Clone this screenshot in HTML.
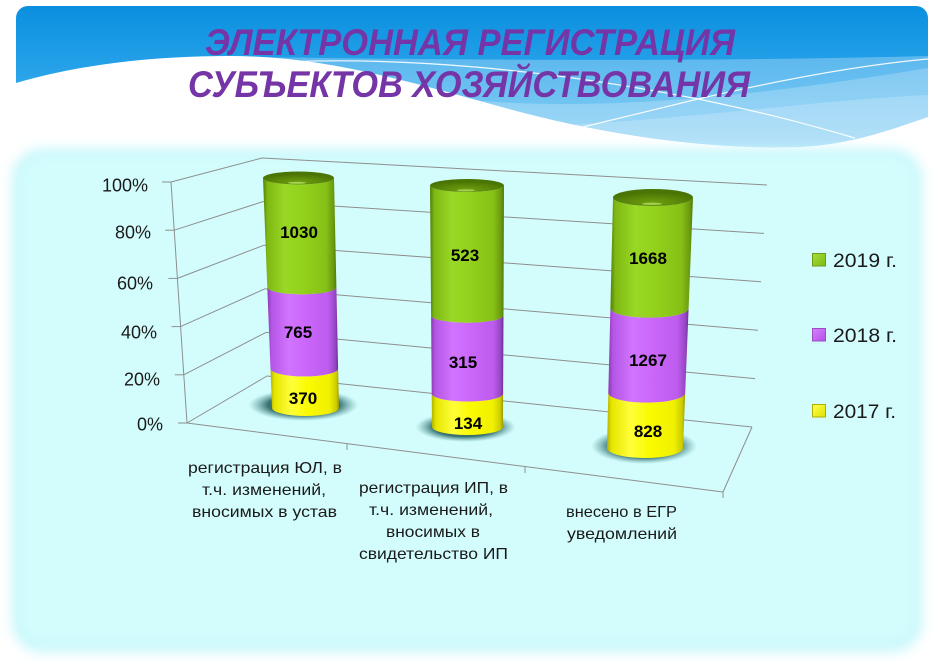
<!DOCTYPE html>
<html>
<head>
<meta charset="utf-8">
<style>
html,body{margin:0;padding:0;background:#ffffff;}
svg{display:block;}
</style>
</head>
<body>
<svg width="935" height="670" viewBox="0 0 935 670" xmlns="http://www.w3.org/2000/svg">
<defs>
  <linearGradient id="hdr" x1="0" y1="0" x2="0" y2="1" gradientUnits="objectBoundingBox">
    <stop offset="0" stop-color="#0a8fdf"/>
    <stop offset="0.45" stop-color="#2aa4ea"/>
    <stop offset="0.75" stop-color="#4ab6ef"/>
    <stop offset="1" stop-color="#6cc6f3"/>
  </linearGradient>
  <clipPath id="hclip"><rect x="16" y="6" width="912" height="160" rx="12"/></clipPath>
  <filter id="b5" x="-10%" y="-10%" width="120%" height="120%"><feGaussianBlur stdDeviation="6"/></filter>
  <filter id="b6" x="-10%" y="-10%" width="120%" height="120%"><feGaussianBlur stdDeviation="5"/></filter>

  <linearGradient id="gG" x1="0" y1="0" x2="1" y2="0">
    <stop offset="0" stop-color="#557f06"/>
    <stop offset="0.06" stop-color="#7eb812"/>
    <stop offset="0.3" stop-color="#9ad826"/>
    <stop offset="0.55" stop-color="#92d11c"/>
    <stop offset="0.86" stop-color="#86c016"/>
    <stop offset="0.96" stop-color="#6a9a0e"/>
    <stop offset="1" stop-color="#4f7a06"/>
  </linearGradient>
  <linearGradient id="gP" x1="0" y1="0" x2="1" y2="0">
    <stop offset="0" stop-color="#8a3ab0"/>
    <stop offset="0.06" stop-color="#b556e6"/>
    <stop offset="0.3" stop-color="#d174ff"/>
    <stop offset="0.55" stop-color="#cb66fb"/>
    <stop offset="0.86" stop-color="#bd5cee"/>
    <stop offset="0.96" stop-color="#9646c4"/>
    <stop offset="1" stop-color="#6f2c94"/>
  </linearGradient>
  <linearGradient id="gY" x1="0" y1="0" x2="1" y2="0">
    <stop offset="0" stop-color="#b0b000"/>
    <stop offset="0.06" stop-color="#e6e600"/>
    <stop offset="0.3" stop-color="#ffff3a"/>
    <stop offset="0.55" stop-color="#fafa00"/>
    <stop offset="0.86" stop-color="#f0f000"/>
    <stop offset="0.96" stop-color="#cccc00"/>
    <stop offset="1" stop-color="#9a9a00"/>
  </linearGradient>
  <radialGradient id="cap" cx="0.5" cy="0.8" r="0.6">
    <stop offset="0" stop-color="#6f9e10"/>
    <stop offset="1" stop-color="#4a7404"/>
  </radialGradient>
  <radialGradient id="shd" cx="0.5" cy="0.5" r="0.5">
    <stop offset="0" stop-color="#1a4f4f" stop-opacity="1"/>
    <stop offset="0.65" stop-color="#2a6464" stop-opacity="0.9"/>
    <stop offset="1" stop-color="#5a9a9a" stop-opacity="0"/>
  </radialGradient>
  <linearGradient id="lgG" x1="0" y1="0" x2="1" y2="1">
    <stop offset="0" stop-color="#a6e03a"/><stop offset="1" stop-color="#7cb814"/>
  </linearGradient>
  <linearGradient id="lgP" x1="0" y1="0" x2="1" y2="1">
    <stop offset="0" stop-color="#d680ff"/><stop offset="1" stop-color="#b450e6"/>
  </linearGradient>
  <linearGradient id="lgY" x1="0" y1="0" x2="1" y2="1">
    <stop offset="0" stop-color="#ffff50"/><stop offset="1" stop-color="#e0e000"/>
  </linearGradient>
</defs>

<!-- Header -->
<g clip-path="url(#hclip)">
  <rect x="16" y="6" width="912" height="160" fill="url(#hdr)"/>
  <path d="M250,57 C450,60 700,62 928,56 L928,170 L250,170 Z" fill="#ffffff" fill-opacity="0.28"/>
  <path d="M470,100 C600,112 760,96 928,68 L928,170 L470,170 Z" fill="#ffffff" fill-opacity="0.22"/>
  <path d="M560,125 C680,120 820,100 928,95 L928,170 L560,170 Z" fill="#ffffff" fill-opacity="0.2"/>
  <path d="M283,62 C400,57 540,68 698,99 C780,116 820,128 855,138" fill="none" stroke="#ffffff" stroke-width="1.2" stroke-opacity="0.9"/>
  <path d="M583,127 L698,99 C780,80 860,65 928,59" fill="none" stroke="#ffffff" stroke-width="1.2" stroke-opacity="0.9"/>
  <path d="M16,83 C60,70 130,56 230,56 C330,56 420,85 520,112 C620,138 720,150 800,147 C850,145 890,130 928,117 L928,170 L16,170 Z" fill="#ffffff"/>
</g>
<rect x="0" y="148" width="935" height="30" fill="#ffffff"/>

<!-- Title -->
<g font-family="'Liberation Sans', 'DejaVu Sans', sans-serif" font-weight="bold" font-style="italic" fill="#7535a6" font-size="37">
  <text x="205" y="55" textLength="530" lengthAdjust="spacingAndGlyphs">ЭЛЕКТРОННАЯ РЕГИСТРАЦИЯ</text>
  <text x="188" y="97" textLength="562" lengthAdjust="spacingAndGlyphs">СУБЪЕКТОВ ХОЗЯЙСТВОВАНИЯ</text>
</g>

<!-- Panel -->
<rect x="12" y="149" width="910" height="503" rx="30" fill="#c9f7fb" filter="url(#b5)"/>
<rect x="20" y="156" width="894" height="486" rx="24" fill="#d3fdfd" filter="url(#b6)"/>

<!-- Gridlines -->
<g stroke="#8e8e8e" stroke-width="1" fill="none">
  <line x1="171" y1="182" x2="262" y2="158"/>
  <line x1="174.2" y1="230.2" x2="263" y2="201.6"/>
  <line x1="177.4" y1="278.4" x2="264" y2="245.2"/>
  <line x1="180.6" y1="326.6" x2="265" y2="288.8"/>
  <line x1="183.8" y1="374.8" x2="266" y2="332.4"/>
  <line x1="187" y1="423" x2="267" y2="376"/>
  <line x1="262" y1="158" x2="767" y2="185"/>
  <line x1="263" y1="201.6" x2="764" y2="233.4"/>
  <line x1="264" y1="245.2" x2="761" y2="281.8"/>
  <line x1="265" y1="288.8" x2="758" y2="330.2"/>
  <line x1="266" y1="332.4" x2="755" y2="378.6"/>
  <line x1="267" y1="376" x2="752" y2="427"/>
  <line x1="171" y1="182" x2="187" y2="423"/>
  <line x1="187" y1="423" x2="723" y2="492"/>
  <line x1="723" y1="492" x2="752" y2="427"/>
  <line x1="162" y1="182" x2="171" y2="182"/>
  <line x1="165.2" y1="230.2" x2="174.2" y2="230.2"/>
  <line x1="168.4" y1="278.4" x2="177.4" y2="278.4"/>
  <line x1="171.6" y1="326.6" x2="180.6" y2="326.6"/>
  <line x1="174.8" y1="374.8" x2="183.8" y2="374.8"/>
  <line x1="178" y1="423" x2="187" y2="423"/>
  <line x1="347" y1="443.6" x2="347" y2="450"/>
  <line x1="525" y1="466.5" x2="525" y2="473"/>
  <line x1="723" y1="492" x2="723" y2="498"/>
</g>

<!-- Y labels -->
<g font-family="'Liberation Sans', sans-serif" font-size="18" fill="#1a1a1a" text-anchor="end">
  <text x="148" y="191.5">100%</text>
  <text x="151" y="238.5">80%</text>
  <text x="153" y="289.5">60%</text>
  <text x="157" y="338.5">40%</text>
  <text x="160" y="385.5">20%</text>
  <text x="163" y="430.5">0%</text>
</g>

<!-- Shadows -->
<ellipse cx="303.5" cy="405" rx="55" ry="16" fill="url(#shd)"/>
<ellipse cx="465.5" cy="427" rx="50" ry="15" fill="url(#shd)"/>
<ellipse cx="644" cy="446" rx="53" ry="18" fill="url(#shd)"/>

<!-- Cylinder 1 -->
<path d="M270.5,368.7 A33.8,7.7 0 0 0 338.1,368.7 L339,408 A33.5,8 0 0 1 272,408 Z" fill="url(#gY)"/>
<path d="M267.3,287.5 A34.6,7.2 0 0 0 336.4,287.5 L338.1,368.7 A33.8,7.7 0 0 1 270.5,368.7 Z" fill="url(#gP)"/>
<path d="M263,178 A35.5,6.5 0 0 0 334,178 L336.4,287.5 A34.6,7.2 0 0 1 267.3,287.5 Z" fill="url(#gG)"/>
<ellipse cx="298.5" cy="178" rx="35.5" ry="6.5" fill="url(#cap)"/>
<ellipse cx="297" cy="182.8" rx="9" ry="1.1" fill="#b8e86a" fill-opacity="0.7"/>

<!-- Cylinder 2 -->
<path d="M431.7,393.7 A35.7,7.8 0 0 0 503.1,393.7 L503,427 A35.5,8 0 0 1 432,427 Z" fill="url(#gY)"/>
<path d="M431.1,315.4 A36.2,7.3 0 0 0 503.5,315.4 L503.1,393.7 A35.7,7.8 0 0 1 431.7,393.7 Z" fill="url(#gP)"/>
<path d="M430,185.5 A37,6.5 0 0 0 504,185.5 L503.5,315.4 A36.2,7.3 0 0 1 431.1,315.4 Z" fill="url(#gG)"/>
<ellipse cx="467" cy="185.5" rx="37" ry="6.5" fill="url(#cap)"/>
<ellipse cx="466" cy="190.3" rx="9" ry="1.1" fill="#b8e86a" fill-opacity="0.7"/>

<!-- Cylinder 3 -->
<path d="M608.3,392.9 A38.4,9.7 0 0 0 685.2,392.9 L683,448 A38,10 0 0 1 607,448 Z" fill="url(#gY)"/>
<path d="M610.4,308.5 A39.1,9.2 0 0 0 688.6,308.5 L685.2,392.9 A38.4,9.7 0 0 1 608.3,392.9 Z" fill="url(#gP)"/>
<path d="M613,197.5 A40,8.5 0 0 0 693,197.5 L688.6,308.5 A39.1,9.2 0 0 1 610.4,308.5 Z" fill="url(#gG)"/>
<ellipse cx="653" cy="197.5" rx="40" ry="8.5" fill="url(#cap)"/>
<ellipse cx="652" cy="203.8" rx="10" ry="1.2" fill="#b8e86a" fill-opacity="0.7"/>

<!-- Data labels -->
<g font-family="'Liberation Sans', sans-serif" font-size="17" font-weight="bold" fill="#000000" text-anchor="middle">
  <text x="299" y="238">1030</text>
  <text x="298" y="338">765</text>
  <text x="303" y="404">370</text>
  <text x="465" y="261">523</text>
  <text x="463" y="368">315</text>
  <text x="468" y="429">134</text>
  <text x="648" y="264">1668</text>
  <text x="648" y="366">1267</text>
  <text x="648" y="437">828</text>
</g>

<!-- Legend -->
<rect x="812.5" y="253.5" width="13" height="12.5" fill="url(#lgG)" stroke="#6f9a1a" stroke-width="1"/>
<rect x="812.5" y="328.5" width="13" height="12.5" fill="url(#lgP)" stroke="#9a50c0" stroke-width="1"/>
<rect x="812.5" y="404.5" width="13" height="12.5" fill="url(#lgY)" stroke="#b0b000" stroke-width="1"/>
<g font-family="'Liberation Sans', sans-serif" font-size="19" fill="#1a1a1a">
  <text x="833" y="267" textLength="64" lengthAdjust="spacingAndGlyphs">2019 г.</text>
  <text x="833" y="342" textLength="64" lengthAdjust="spacingAndGlyphs">2018 г.</text>
  <text x="833" y="418" textLength="63" lengthAdjust="spacingAndGlyphs">2017 г.</text>
</g>

<!-- Category labels -->
<g font-family="'Liberation Sans', sans-serif" font-size="16" fill="#1a1a1a">
  <text x="188" y="473" textLength="154" lengthAdjust="spacingAndGlyphs">регистрация ЮЛ, в</text>
  <text x="202" y="495" textLength="124" lengthAdjust="spacingAndGlyphs">т.ч. изменений,</text>
  <text x="192" y="517" textLength="145" lengthAdjust="spacingAndGlyphs">вносимых в устав</text>

  <text x="359" y="493" textLength="149" lengthAdjust="spacingAndGlyphs">регистрация ИП, в</text>
  <text x="369" y="515" textLength="124" lengthAdjust="spacingAndGlyphs">т.ч. изменений,</text>
  <text x="386" y="537" textLength="94" lengthAdjust="spacingAndGlyphs">вносимых в</text>
  <text x="359" y="559" textLength="149" lengthAdjust="spacingAndGlyphs">свидетельство ИП</text>

  <text x="566" y="517" textLength="111" lengthAdjust="spacingAndGlyphs">внесено в ЕГР</text>
  <text x="567" y="539" textLength="110" lengthAdjust="spacingAndGlyphs">уведомлений</text>
</g>
</svg>
</body>
</html>
